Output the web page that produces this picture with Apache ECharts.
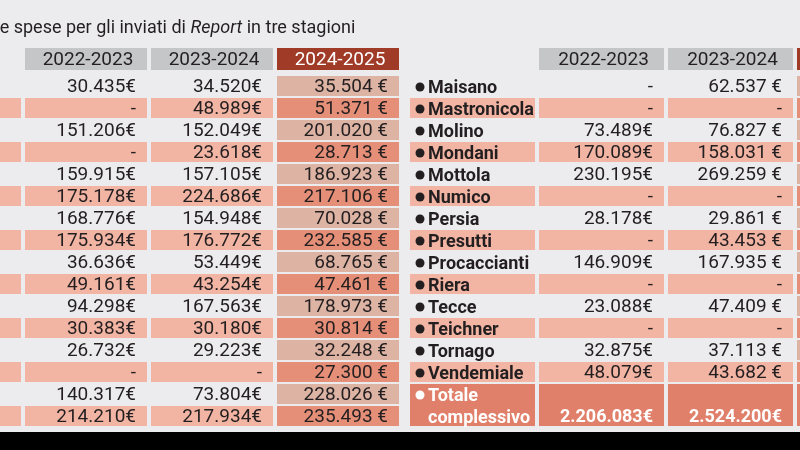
<!DOCTYPE html>
<html>
<head>
<meta charset="utf-8">
<title>Le spese per gli inviati di Report</title>
<script src="https://cdn.jsdelivr.net/npm/echarts/dist/echarts.min.js"></script>
<style>
    html, body { margin: 0; padding: 0; background: #000; }
    #chart { width: 800px; height: 432px; }
</style>
</head>
<body>
<div id="chart"></div>
<script>
// stagioni (intestazioni di colonna)
const seasons = ['2022-2023', '2023-2024', '2024-2025'];

// tabella di sinistra (i nomi sono fuori dall'inquadratura)
const left2223 = [30435, null, 151206, null, 159915, 175178, 168776, 175934, 36636, 49161, 94298, 30383, 26732, null, 140317, 214210];
const left2324 = [34520, 48989, 152049, 23618, 157105, 224686, 154948, 176772, 53449, 43254, 167563, 30180, 29223, null, 73804, 217934];
const left2425 = [35504, 51371, 201020, 28713, 186923, 217106, 70028, 232585, 68765, 47461, 178973, 30814, 32248, 27300, 228026, 235493];

// tabella di destra (la colonna 2024-2025 e' tagliata)
const rightNames = ['Maisano', 'Mastronicola', 'Molino', 'Mondani', 'Mottola', 'Numico', 'Persia', 'Presutti',
    'Procaccianti', 'Riera', 'Tecce', 'Teichner', 'Tornago', 'Vendemiale'];
const right2223 = [null, null, 73489, 170089, 230195, null, 28178, null, 146909, null, 23088, null, 32875, 48079];
const right2324 = [62537, null, 76827, 158031, 269259, null, 29861, 43453, 167935, null, 47409, null, 37113, 43682];
const totalLabel = 'Totale\ncomplessivo';
const totals = [2206083, 2524200];

const BG = '#ececee';
const GREY_HEAD = '#c5c6c8';
const RED_HEAD = '#a03b27';
const PINK = '#f2b4a3';
const COL3_LIGHT = '#ddb3a4';
const COL3_PINK = '#e58f78';
const TOTAL = '#e0806a';
const INK = '#231f20';
const FONT = 'Roboto';

function fmt(v, suffix) {
    if (v == null) return '-';
    return String(v).replace(/\B(?=(\d{3})+(?!\d))/g, '.') + suffix;
}

// celle: col, row, span, fill, text, kind
const leftHead = [
    {col: 1, row: 0, fill: GREY_HEAD, text: seasons[0], kind: 'head'},
    {col: 2, row: 0, fill: GREY_HEAD, text: seasons[1], kind: 'head'},
    {col: 3, row: 0, fill: RED_HEAD, text: seasons[2], kind: 'head', color: '#fff'}
];
const rightHead = leftHead.map(c => Object.assign({}, c));

const leftBody = [];
left2425.forEach(function (v, r) {
    const pink = r % 2 === 1;
    leftBody.push({col: 0, row: r, fill: pink ? PINK : null});
    leftBody.push({col: 1, row: r, fill: pink ? PINK : null, text: fmt(left2223[r], '€'), kind: 'num'});
    leftBody.push({col: 2, row: r, fill: pink ? PINK : null, text: fmt(left2324[r], '€'), kind: 'num'});
    leftBody.push({col: 3, row: r, fill: pink ? COL3_PINK : COL3_LIGHT, text: fmt(v, ' €'), kind: 'num'});
});

const rightBody = [];
rightNames.forEach(function (name, r) {
    const pink = r % 2 === 1;
    rightBody.push({col: 0, row: r, fill: pink ? PINK : null, text: name, kind: 'name'});
    rightBody.push({col: 1, row: r, fill: pink ? PINK : null, text: fmt(right2223[r], '€'), kind: 'num'});
    rightBody.push({col: 2, row: r, fill: pink ? PINK : null, text: fmt(right2324[r], ' €'), kind: 'num'});
    rightBody.push({col: 3, row: r, fill: pink ? COL3_PINK : COL3_LIGHT});
});
const tRow = rightNames.length;
rightBody.push({col: 0, row: tRow, span: 2, fill: TOTAL, text: totalLabel, kind: 'name', color: '#fff'});
rightBody.push({col: 1, row: tRow, span: 2, fill: TOTAL, text: fmt(totals[0], '€'), kind: 'total', color: '#fff'});
rightBody.push({col: 2, row: tRow, span: 2, fill: TOTAL, text: fmt(totals[1], '€'), kind: 'total', color: '#fff'});
rightBody.push({col: 3, row: tRow, span: 2, fill: TOTAL});

function cellRenderer(cells) {
    return function (params, api) {
        const c = cells[params.dataIndex];
        const center = api.coord([c.col, c.row]);
        const size = api.size([1, 1]);
        const w = size[0] - 4;
        const rowH = size[1];
        const h = rowH * (c.span || 1) - 2;
        const x = center[0] - size[0] / 2;
        const y = center[1] - rowH / 2;
        const color = c.color || INK;
        const children = [];
        if (c.fill) {
            children.push({type: 'rect', shape: {x: x, y: y, width: w, height: h}, style: {fill: c.fill}});
        }
        if (c.kind === 'head') {
            children.push({type: 'text', style: {
                text: c.text, x: x + w / 2 + 2, y: y + h / 2 + 1, align: 'center', verticalAlign: 'middle',
                fontFamily: FONT, fontSize: 19, fill: color
            }});
        } else if (c.kind === 'num') {
            children.push({type: 'text', style: {
                text: c.text, x: x + w - 11, y: y + h / 2 + 1, align: 'right', verticalAlign: 'middle',
                fontFamily: FONT, fontSize: 19, fill: color
            }});
        } else if (c.kind === 'total') {
            // il totale sta sulla seconda riga della cella
            children.push({type: 'text', style: {
                text: c.text, x: x + w - 11, y: y + rowH * 1.5, align: 'right', verticalAlign: 'middle',
                fontFamily: FONT, fontSize: 18, fontWeight: 'bold', fill: color
            }});
        } else if (c.kind === 'name') {
            children.push({type: 'circle', shape: {cx: x + 10, cy: y + rowH / 2, r: 4.5}, style: {fill: color}});
            children.push({type: 'text', style: {
                text: c.text, x: x + 18, y: y + 1, align: 'left', verticalAlign: 'top',
                fontFamily: FONT, fontSize: 18, fontWeight: 'bold', fill: color, lineHeight: rowH
            }});
        }
        return {type: 'group', children: children};
    };
}

function catAxis(gridIndex, n, inverse) {
    const data = [];
    for (let i = 0; i < n; i++) data.push(i);
    return {type: 'category', gridIndex: gridIndex, data: data, show: false, inverse: !!inverse};
}

function tableSeries(cells, idx) {
    return {
        type: 'custom',
        coordinateSystem: 'cartesian2d',
        xAxisIndex: idx,
        yAxisIndex: idx,
        silent: true,
        renderItem: cellRenderer(cells),
        data: cells.map(c => [c.col, c.row])
    };
}

const bodyRows = left2425.length;

let myChart = echarts.init(document.getElementById('chart'), null, {renderer: 'canvas'});

const option = {
    backgroundColor: BG,
    animation: false,
    graphic: [{
        type: 'text',
        x: -10,
        y: 19,
        style: {
            text: '{n|Le spese per gli inviati di }{i|Report}{n| in tre stagioni}',
            rich: {
                n: {fontFamily: FONT, fontSize: 18, fill: INK},
                i: {fontFamily: FONT, fontSize: 18, fontStyle: 'italic', fill: INK}
            }
        }
    }],
    grid: [
        {left: -101, top: 48, width: 504, height: 24, outerBoundsMode: 'none'},           // intestazione sinistra
        {left: -101, top: 76, width: 504, height: 22 * bodyRows, outerBoundsMode: 'none'}, // corpo sinistro
        {left: 410, top: 48, width: 516, height: 24, outerBoundsMode: 'none'},             // intestazione destra
        {left: 410, top: 76, width: 516, height: 22 * bodyRows, outerBoundsMode: 'none'}   // corpo destro
    ],
    xAxis: [catAxis(0, 4), catAxis(1, 4), catAxis(2, 4), catAxis(3, 4)],
    yAxis: [catAxis(0, 1, true), catAxis(1, bodyRows, true), catAxis(2, 1, true), catAxis(3, bodyRows, true)],
    series: [
        tableSeries(leftHead, 0),
        tableSeries(leftBody, 1),
        tableSeries(rightHead, 2),
        tableSeries(rightBody, 3)
    ]
};

myChart.setOption(option);
</script>
</body>
</html>
